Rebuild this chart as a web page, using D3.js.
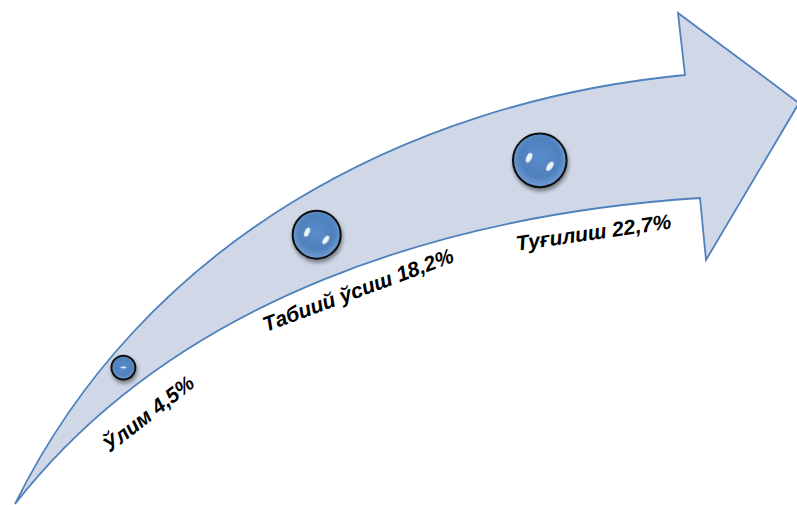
<!DOCTYPE html>
<html><head><meta charset="utf-8">
<script src="https://cdn.jsdelivr.net/npm/d3@7"></script>
<style>
html,body{margin:0;padding:0;background:#fff;}
svg{display:block;}
</style></head>
<body>
<svg id="chart" width="797" height="505"></svg>
<script>
// ---- data ----
const categories = ["Ўлим", "Табиий ўсиш", "Туғилиш"];
const values = [4.5, 18.2, 22.7];
const valueLabels = ["4,5%", "18,2%", "22,7%"];

// ---- layout (decorative arrow geometry: sampled edge points, smoothed by a cubic fit) ----
const upperEdge = [[15,504],[53,437],[87,387],[120,347],[153,310],[187,282],[220,257],[317,183],[383,150],[450,127],[517,108],[583,93],[650,82],[685,75]];
const lowerEdge = [[15,504],[53,457],[87,423],[120,397],[153,373],[187,352],[220,332],[253,313],[280,298],[310,283],[450,237],[483,228],[550,217],[617,207],[700,198]];
const headPts = [[678,13],[799,103],[706,260],[700,198]];
const labelShift = [-0.008, 0.024, 0.05];
const labelOffset = [30, 22, 23];
const bubbleWeight = [0.56, 0.52, 0.49];

function bez(P,t){
  const u=1-t, b0=u*u*u, b1=3*t*u*u, b2=3*t*t*u, b3=t*t*t;
  return [b0*P[0][0]+b1*P[1][0]+b2*P[2][0]+b3*P[3][0], b0*P[0][1]+b1*P[1][1]+b2*P[2][1]+b3*P[3][1]];
}
function fitCubic(pts){
  const n=pts.length, P0=pts[0], P3=pts[n-1];
  let ts=[0]; for(let i=1;i<n;i++) ts.push(ts[i-1]+Math.hypot(pts[i][0]-pts[i-1][0],pts[i][1]-pts[i-1][1]));
  ts=ts.map(t=>t/ts[n-1]);
  let C;
  for(let it=0; it<8; it++){
    let a11=0,a12=0,a22=0,bx1=0,bx2=0,by1=0,by2=0;
    ts.forEach((t,i)=>{
      const u=1-t, b0=u*u*u, b1=3*t*u*u, b2=3*t*t*u, b3=t*t*t;
      const rx=pts[i][0]-b0*P0[0]-b3*P3[0], ry=pts[i][1]-b0*P0[1]-b3*P3[1];
      a11+=b1*b1; a12+=b1*b2; a22+=b2*b2; bx1+=b1*rx; bx2+=b2*rx; by1+=b1*ry; by2+=b2*ry;
    });
    const det=a11*a22-a12*a12;
    const C1=[(bx1*a22-bx2*a12)/det,(by1*a22-by2*a12)/det];
    const C2=[(a11*bx2-a12*bx1)/det,(a11*by2-a12*by1)/det];
    C=[P0,C1,C2,P3];
    const samples=d3.range(0,1.0001,0.001).map(t=>[t,bez(C,t)]);
    ts=pts.map((p,i)=>{
      if(i===0) return 0; if(i===n-1) return 1;
      let best=0,bd=1e9; samples.forEach(([t,q])=>{const d=(q[0]-p[0])**2+(q[1]-p[1])**2; if(d<bd){bd=d;best=t;}});
      return best;
    });
  }
  return C;
}
const U = fitCubic(upperEdge), Lo = fitCubic(lowerEdge);
const f2 = v => v[0].toFixed(2)+","+v[1].toFixed(2);
const upperD = `M${f2(U[0])}C${f2(U[1])} ${f2(U[2])} ${f2(U[3])}`;
const lowerD = `M${f2(Lo[0])}C${f2(Lo[1])} ${f2(Lo[2])} ${f2(Lo[3])}`;
const arrowD = upperD + headPts.map(p => "L" + p[0] + "," + p[1]).join("") +
  `L${f2(Lo[3])}C${f2(Lo[2])} ${f2(Lo[1])} ${f2(Lo[0])}Z`;

const svg = d3.select("#chart");
const defs = svg.append("defs");

const rg = defs.append("radialGradient").attr("id","ball").attr("cx","50%").attr("cy","45%").attr("r","60%");
rg.append("stop").attr("offset","0%").attr("stop-color","#5a8ccb");
rg.append("stop").attr("offset","60%").attr("stop-color","#4f81bd");
rg.append("stop").attr("offset","88%").attr("stop-color","#6f9bd3");
rg.append("stop").attr("offset","100%").attr("stop-color","#a9c4e8");

const sh = defs.append("filter").attr("id","shadow").attr("x","-50%").attr("y","-50%").attr("width","200%").attr("height","200%");
sh.append("feGaussianBlur").attr("in","SourceAlpha").attr("stdDeviation",2);
sh.append("feOffset").attr("dx",1).attr("dy",3).attr("result","b");
sh.append("feComponentTransfer").append("feFuncA").attr("type","linear").attr("slope",0.45);
const mg = sh.append("feMerge"); mg.append("feMergeNode"); mg.append("feMergeNode").attr("in","SourceGraphic");

const blur = defs.append("filter").attr("id","soft").attr("x","-100%").attr("y","-100%").attr("width","300%").attr("height","300%");
blur.append("feGaussianBlur").attr("stdDeviation",0.7);

svg.append("path").attr("d", arrowD)
  .attr("fill","#d0d8e8").attr("stroke","#4f81bd").attr("stroke-width",1.8).attr("stroke-linejoin","miter");

const upPath = svg.append("path").attr("d", upperD).attr("fill","none").attr("stroke","none").node();
const loPath = svg.append("path").attr("d", lowerD).attr("fill","none").attr("stroke","none").node();
const Lu = upPath.getTotalLength(), Ll = loPath.getTotalLength();

const pos = d3.scalePoint().domain(categories).range([0.218, 0.807]);
const r = d3.scaleSqrt().domain([0, d3.max(values)]).range([0, 26.8]);

function centerAt(f, w){
  const a = upPath.getPointAtLength(f*Lu), b = loPath.getPointAtLength(f*Ll);
  return [a.x*w + b.x*(1-w), a.y*w + b.y*(1-w)];
}
function lowerAt(f){
  const p = loPath.getPointAtLength(f*Ll);
  const p2 = loPath.getPointAtLength(Math.min(Ll, f*Ll+2));
  const p1 = loPath.getPointAtLength(Math.max(0, f*Ll-2));
  const ang = Math.atan2(p2.y-p1.y, p2.x-p1.x);
  return {x:p.x, y:p.y, ang};
}

const data = categories.map((c,i)=>({c, v:values[i], lab:valueLabels[i], i}));

// bubbles
const g = svg.append("g");
data.forEach(d=>{
  const [cx,cy] = centerAt(pos(d.c), bubbleWeight[d.i]);
  const rr = r(d.v);
  const bg = g.append("g").attr("transform",`translate(${cx},${cy})`);
  bg.append("circle").attr("r", rr).attr("fill","url(#ball)").attr("stroke","#111").attr("stroke-width",2)
    .attr("filter","url(#shadow)");
  if (d.i === 0) {
    bg.append("ellipse").attr("cx",0).attr("cy",0).attr("rx",rr*0.25).attr("ry",rr*0.08)
      .attr("fill","#fff").attr("opacity",0.8).attr("filter","url(#soft)");
  } else {
    bg.append("ellipse").attr("cx",-rr*0.4).attr("cy",-rr*0.1).attr("rx",rr*0.1).attr("ry",rr*0.2)
      .attr("transform",`rotate(25,${-rr*0.4},${-rr*0.1})`)
      .attr("fill","#fff").attr("opacity",0.9).attr("filter","url(#soft)");
    bg.append("ellipse").attr("cx",rr*0.38).attr("cy",rr*0.22).attr("rx",rr*0.1).attr("ry",rr*0.2)
      .attr("transform",`rotate(35,${rr*0.38},${rr*0.22})`)
      .attr("fill","#fff").attr("opacity",0.9).attr("filter","url(#soft)");
  }
});

// labels
data.forEach(d=>{
  const p = lowerAt(pos(d.c) + labelShift[d.i]);
  const nx = -Math.sin(p.ang), ny = Math.cos(p.ang);
  const x = p.x + nx*labelOffset[d.i], y = p.y + ny*labelOffset[d.i];
  svg.append("text")
    .attr("transform", `translate(${x},${y}) rotate(${p.ang*180/Math.PI})`)
    .attr("text-anchor","middle").attr("dominant-baseline","central")
    .attr("font-family","'Liberation Sans', Arial, sans-serif")
    .attr("font-weight","bold").attr("font-style","italic").attr("font-size",21)
    .attr("fill","#000")
    .text(d.c + " " + d.lab);
});
</script>
</body></html>
